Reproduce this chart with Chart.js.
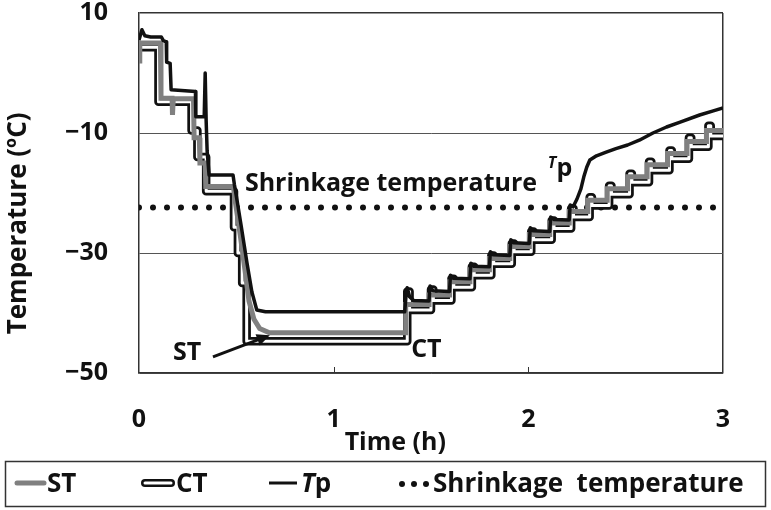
<!DOCTYPE html>
<html>
<head>
<meta charset="utf-8">
<script src="https://cdn.jsdelivr.net/npm/chart.js@4.4.1/dist/chart.umd.min.js"></script>
<style>
  html, body { margin: 0; padding: 0; background: #fff; }
  #c { display: block; }
</style>
</head>
<body>
<canvas id="c" width="771" height="510" style="width:771px;height:510px"></canvas>
<script>
// ---------------- data ----------------
const xTicks = [0, 1, 2, 3];
const yTicks = [10, -10, -30, -50];

const tpTime = [0.000,0.015,0.030,0.060,0.115,0.125,0.140,0.142,0.160,0.165,0.290,0.292,0.335,0.340,0.345,0.350,0.360,0.483,0.490,0.505,0.525,0.555,0.580,0.605,0.650,1.365,1.372,1.378,1.390,1.410,1.490,1.495,1.510,1.595,1.600,1.615,1.700,1.705,1.720,1.800,1.805,1.820,1.905,1.910,1.925,2.005,2.010,2.025,2.110,2.115,2.130,2.210,2.215,2.230,2.250,2.270,2.285,2.300,2.316,2.350,2.400,2.450,2.510,2.570,2.640,2.710,2.780,2.880,2.950,3.000];
const tpTemp = [5.5,7.2,6.2,6.0,6.0,5.4,5.2,1.8,1.6,-2.8,-3.1,-7.3,-7.3,0.0,-8.0,-13.0,-17.0,-17.0,-18.6,-21.5,-25.5,-31.7,-36.5,-39.5,-39.8,-39.8,-37.0,-35.8,-37.3,-37.9,-38.0,-35.5,-36.3,-36.4,-33.7,-34.2,-34.3,-31.7,-32.2,-32.3,-29.8,-30.3,-30.4,-27.8,-28.3,-28.4,-25.8,-26.3,-26.4,-24.0,-24.4,-24.5,-22.0,-22.3,-21.0,-19.3,-17.3,-15.7,-14.5,-13.8,-13.2,-12.6,-12.0,-11.2,-10.0,-9.0,-8.2,-7.0,-6.3,-5.8];

const stTime = [0.000,0.004,0.110,0.113,0.170,0.172,0.176,0.280,0.283,0.310,0.313,0.340,0.343,0.485,0.495,0.520,0.545,0.565,0.590,0.620,0.670,1.370,1.370,1.490,1.490,1.595,1.595,1.700,1.700,1.800,1.800,1.905,1.905,2.005,2.005,2.110,2.110,2.210,2.210,2.305,2.305,2.405,2.405,2.510,2.510,2.610,2.610,2.715,2.715,2.815,2.815,2.915,2.915,3.000];
const stTemp = [2.0,5.0,5.0,-4.2,-4.2,-7.0,-4.3,-4.3,-10.8,-10.8,-15.0,-15.0,-18.9,-18.9,-21.5,-27.0,-33.0,-38.0,-41.0,-42.6,-43.3,-43.3,-38.6,-38.6,-37.0,-37.0,-34.8,-34.8,-32.8,-32.8,-30.9,-30.9,-28.9,-28.9,-26.9,-26.9,-25.0,-25.0,-23.1,-23.1,-21.2,-21.2,-19.3,-19.3,-17.3,-17.3,-15.3,-15.3,-13.4,-13.4,-11.4,-11.4,-9.6,-9.6];

const ctTime = [0.000,0.100,0.100,0.270,0.270,0.300,0.300,0.345,0.345,0.488,0.488,0.508,0.508,0.530,0.530,0.553,0.553,1.378,1.378,1.390,1.390,1.500,1.500,1.512,1.512,1.605,1.605,1.617,1.617,1.710,1.710,1.722,1.722,1.810,1.810,1.822,1.822,1.915,1.915,1.927,1.927,2.015,2.015,2.027,2.027,2.120,2.120,2.132,2.132,2.220,2.220,2.232,2.232,2.315,2.315,2.327,2.327,2.415,2.415,2.427,2.427,2.520,2.520,2.532,2.532,2.620,2.620,2.632,2.632,2.725,2.725,2.737,2.737,2.825,2.825,2.837,2.837,2.925,2.925,2.937,2.937,3.000];
const ctTemp = [4.3,4.3,-4.8,-4.8,-9.6,-9.6,-14.0,-14.0,-19.7,-19.7,-25.7,-25.7,-30.0,-30.0,-35.0,-35.0,-44.7,-44.7,-36.4,-36.4,-39.5,-39.5,-36.1,-36.1,-37.9,-37.9,-34.3,-34.3,-35.7,-35.7,-32.3,-32.3,-33.7,-33.7,-30.4,-30.4,-31.8,-31.8,-28.4,-28.4,-29.8,-29.8,-26.4,-26.4,-27.8,-27.8,-24.6,-24.6,-25.9,-25.9,-22.6,-22.6,-24.0,-24.0,-20.7,-20.7,-22.1,-22.1,-18.8,-18.8,-20.2,-20.2,-16.8,-16.8,-18.2,-18.2,-14.8,-14.8,-16.2,-16.2,-12.9,-12.9,-14.3,-14.3,-10.8,-10.8,-12.3,-12.3,-8.8,-8.8,-10.5,-10.5];

const shrinkTime = [0, 3];
const shrinkTemp = [-22.4, -22.4];

// ---------------- helpers ----------------
const pts = (xs, ys) => xs.map((x, i) => ({ x: x, y: ys[i] }));
const FONT = '"Open Sans", "DejaVu Sans", sans-serif';
const INK = '#111';
const GRAY = '#808080';

const annotPlugin = {
  id: 'annot',
  afterDraw(chart) {
    const ctx = chart.ctx, xs = chart.scales.x, ys = chart.scales.y, ca = chart.chartArea;
    ctx.save();
    // small inward tick marks on the time axis
    ctx.strokeStyle = '#333'; ctx.lineWidth = 1;
    [1, 2].forEach(v => {
      const px = Math.round(xs.getPixelForValue(v)) + 0.5;
      ctx.beginPath(); ctx.moveTo(px, ca.bottom); ctx.lineTo(px, ca.bottom - 6); ctx.stroke();
    });
    // annotations
    ctx.fillStyle = INK; ctx.textBaseline = 'alphabetic'; ctx.textAlign = 'left';
    ctx.font = 'bold 25px ' + FONT;
    ctx.fillText('Shrinkage temperature', xs.getPixelForValue(0.544), ys.getPixelForValue(-19.7));
    ctx.fillText('ST', xs.getPixelForValue(0.175), ys.getPixelForValue(-47.8));
    ctx.fillText('CT', xs.getPixelForValue(1.398), ys.getPixelForValue(-47.3));
    ctx.font = 'italic bold 16px ' + FONT;
    ctx.fillText('T', xs.getPixelForValue(2.1), ys.getPixelForValue(-15.8));
    ctx.font = 'bold 25px ' + FONT;
    ctx.fillText('p', xs.getPixelForValue(2.145), ys.getPixelForValue(-17.2));
    // arrow ST
    const ax0 = xs.getPixelForValue(0.38), ay0 = ys.getPixelForValue(-47.3);
    const ax1 = xs.getPixelForValue(0.672), ay1 = ys.getPixelForValue(-43.7);
    ctx.strokeStyle = INK; ctx.lineWidth = 3;
    const ang = Math.atan2(ay1 - ay0, ax1 - ax0);
    ctx.beginPath(); ctx.moveTo(ax0, ay0);
    ctx.lineTo(ax1 - 8 * Math.cos(ang), ay1 - 8 * Math.sin(ang)); ctx.stroke();
    ctx.beginPath();
    ctx.moveTo(ax1, ay1);
    ctx.lineTo(ax1 - 13 * Math.cos(ang) + 6 * Math.sin(ang), ay1 - 13 * Math.sin(ang) - 6 * Math.cos(ang));
    ctx.lineTo(ax1 - 13 * Math.cos(ang) - 6 * Math.sin(ang), ay1 - 13 * Math.sin(ang) + 6 * Math.cos(ang));
    ctx.closePath(); ctx.fill();

    // legend (boxed, bottom)
    const ly = 483, base = 492;
    ctx.strokeStyle = '#333'; ctx.lineWidth = 1.5;
    ctx.strokeRect(5.5, 461.5, 760, 45);
    ctx.lineCap = 'round';
    // ST
    ctx.strokeStyle = GRAY; ctx.lineWidth = 5;
    ctx.beginPath(); ctx.moveTo(17, ly); ctx.lineTo(44, ly); ctx.stroke();
    // CT
    ctx.strokeStyle = INK; ctx.lineWidth = 8;
    ctx.beginPath(); ctx.moveTo(145, ly); ctx.lineTo(171, ly); ctx.stroke();
    ctx.strokeStyle = '#fff'; ctx.lineWidth = 3;
    ctx.beginPath(); ctx.moveTo(145, ly); ctx.lineTo(171, ly); ctx.stroke();
    // Tp
    ctx.strokeStyle = INK; ctx.lineWidth = 3; ctx.lineCap = 'butt';
    ctx.beginPath(); ctx.moveTo(269, ly); ctx.lineTo(297, ly); ctx.stroke();
    // dots
    ctx.fillStyle = INK;
    [402, 414, 426].forEach(x => { ctx.beginPath(); ctx.arc(x, ly + 1, 3, 0, Math.PI * 2); ctx.fill(); });
    ctx.font = 'bold 26px ' + FONT;
    ctx.fillText('ST', 47, base);
    ctx.fillText('CT', 176, base);
    ctx.font = 'italic bold 26px ' + FONT;
    ctx.fillText('T', 301, base);
    const tw = ctx.measureText('T').width;
    ctx.font = 'bold 26px ' + FONT;
    ctx.fillText('p', 301 + tw, base);
    ctx.fillText('Shrinkage  temperature', 433, base);
    ctx.restore();
  }
};

const tickFont = { family: FONT, size: 25, weight: 'bold', lineHeight: 1.0 };

new Chart(document.getElementById('c'), {
  type: 'line',
  data: {
    datasets: [
      { label: 'Tp', data: pts(tpTime, tpTemp), borderColor: INK, borderWidth: 3.5, borderJoinStyle: 'round' },
      { label: 'ST', data: pts(stTime, stTemp), borderColor: GRAY, borderWidth: 5 },
      { label: 'CT', data: pts(ctTime, ctTemp), borderColor: '#fff', borderWidth: 3, borderJoinStyle: 'round' },
      { label: 'CT outline', data: pts(ctTime, ctTemp), borderColor: INK, borderWidth: 8.5, borderJoinStyle: 'round' },
      { label: 'Shrinkage temperature', data: pts(shrinkTime, shrinkTemp), borderColor: INK, borderWidth: 6, borderDash: [0, 14], borderCapStyle: 'round' }
    ]
  },
  options: {
    responsive: false,
    animation: false,
    events: [],
    layout: { padding: { top: 13, right: 48, bottom: 50, left: 0 } },
    elements: { point: { radius: 0 }, line: { tension: 0, fill: false } },
    plugins: { legend: { display: false }, tooltip: { enabled: false } },
    scales: {
      x: {
        type: 'linear', min: 0, max: 3,
        afterBuildTicks: s => { s.ticks = xTicks.map(v => ({ value: v })); },
        afterFit: s => { s.height = 87; },
        ticks: { font: tickFont, color: INK, padding: 34, maxRotation: 0 },
        grid: { drawTicks: false, lineWidth: 1.5, color: c => (c.tick && c.tick.value === 3) ? '#333' : 'rgba(0,0,0,0)' },
        border: { color: '#333', width: 1.5 },
        title: { display: true, text: 'Time (h)           ', color: INK, font: { family: FONT, size: 25, weight: 'bold', lineHeight: 1.2 }, padding: { top: 0, bottom: 2 } }
      },
      y: {
        type: 'linear', min: -50, max: 10,
        afterBuildTicks: s => { s.ticks = yTicks.map(v => ({ value: v })); },
        afterFit: s => { s.width = 139; s.paddingTop = 0; s.paddingBottom = 0; },
        ticks: { font: tickFont, color: INK, padding: 31, callback: v => (v < 0 ? '\u2212' + Math.abs(v) : String(v)) },
        grid: { drawTicks: false, lineWidth: c => (c.tick && c.tick.value === 10) ? 1.5 : 1, color: c => (c.tick && c.tick.value === 10) ? '#333' : '#555' },
        border: { color: '#333', width: 1.5 },
        title: { display: true, text: 'Temperature (\u00baC)         ', color: INK, font: { family: FONT, size: 26, weight: 'bold', lineHeight: 1.2 }, padding: { top: 3, bottom: 0 } }
      }
    }
  },
  plugins: [annotPlugin]
});
</script>
</body>
</html>
